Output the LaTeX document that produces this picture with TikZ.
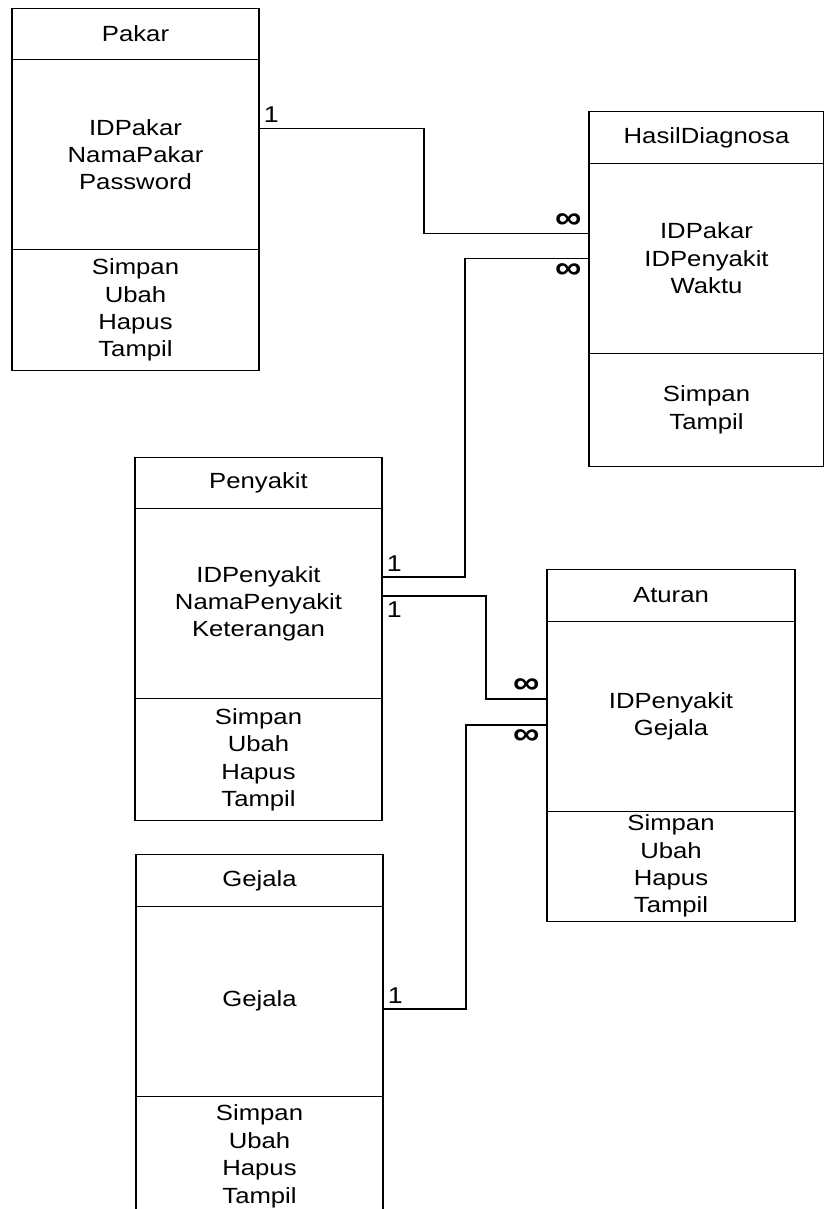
\documentclass[tikz,border=0pt]{standalone}
\usepackage{fontspec}
\setmainfont{Liberation Sans}[FakeStretch=1.17]
\usetikzlibrary{positioning}

\begin{document}
\begin{tikzpicture}[x=0.02cm, y=-0.02cm, line width=0.7pt,
  bagian/.style={draw, rectangle, outer sep=0pt, inner sep=0pt, align=center, minimum width=4.94cm, font=\fontsize{12.5}{15.6}\selectfont},
  judul/.style={bagian, minimum height=1.03cm},
  atribut/.style={bagian, minimum height=3.8cm},
  operasi/.style={bagian, minimum height=#1},
  rel/.style={line width=0.7pt},
  lbl/.style={inner xsep=2.5pt, inner ysep=3pt, font=\fontsize{13}{14}\selectfont},
  inf/.style={inner xsep=4pt, inner ysep=2.5pt, font=\fontsize{18}{18}\selectfont\bfseries},
]
\useasboundingbox (0,0) rectangle (823,1209);

% Pakar
\node[judul] (pakar) at (135.5,34) {Pakar};
\node[atribut, below=0pt of pakar] (pakarAtr) {IDPakar\\NamaPakar\\Password};
\node[operasi=2.42cm, below=0pt of pakarAtr] (pakarOp) {Simpan\\Ubah\\Hapus\\Tampil};

% HasilDiagnosa
\node[judul, minimum width=4.7cm] (hasil) at (706.5,137.5) {HasilDiagnosa};
\node[atribut, minimum width=4.7cm, below=0pt of hasil] (hasilAtr) {IDPakar\\IDPenyakit\\Waktu};
\node[operasi=2.26cm, minimum width=4.7cm, below=0pt of hasilAtr] (hasilOp) {Simpan\\Tampil};

% Penyakit
\node[judul] (penyakit) at (258.5,483) {Penyakit};
\node[atribut, below=0pt of penyakit] (penyakitAtr) {IDPenyakit\\NamaPenyakit\\Keterangan};
\node[operasi=2.44cm, below=0pt of penyakitAtr] (penyakitOp) {Simpan\\Ubah\\Hapus\\Tampil};

% Aturan
\node[judul, minimum width=4.96cm] (aturan) at (671,595.5) {Aturan};
\node[atribut, minimum width=4.96cm, below=0pt of aturan] (aturanAtr) {IDPenyakit\\Gejala};
\node[operasi=2.2cm, minimum width=4.96cm, below=0pt of aturanAtr] (aturanOp) {Simpan\\Ubah\\Hapus\\Tampil};

% Gejala
\node[judul] (gejala) at (259.5,880.5) {Gejala};
\node[atribut, below=0pt of gejala] (gejalaAtr) {Gejala};
\node[operasi=2.4cm, below=0pt of gejalaAtr] (gejalaOp) {Simpan\\Ubah\\Hapus\\Tampil};

% relasi
\draw[rel] ([yshift=0.52cm]pakarAtr.east) node[lbl, above right] {1}
  -- ++(165,0) |- ([yshift=0.5cm]hasilAtr.west) node[inf, above left] {∞};
\draw[rel] (hasilAtr.west) node[inf, below left] {∞}
  -- ++(-124,0) |- ([yshift=0.535cm]penyakitAtr.east) node[lbl, above right] {1};
\draw[rel] ([yshift=0.155cm]penyakitAtr.east) node[lbl, below right] {1}
  -- ++(104,0) |- ([yshift=0.345cm]aturanAtr.west) node[inf, above left] {∞};
\draw[rel] ([yshift=-0.175cm]aturanAtr.west) node[inf, below left] {∞}
  -- ++(-81,0) |- ([yshift=-0.155cm]gejalaAtr.east) node[lbl, above right] {1};
\end{tikzpicture}
\end{document}
